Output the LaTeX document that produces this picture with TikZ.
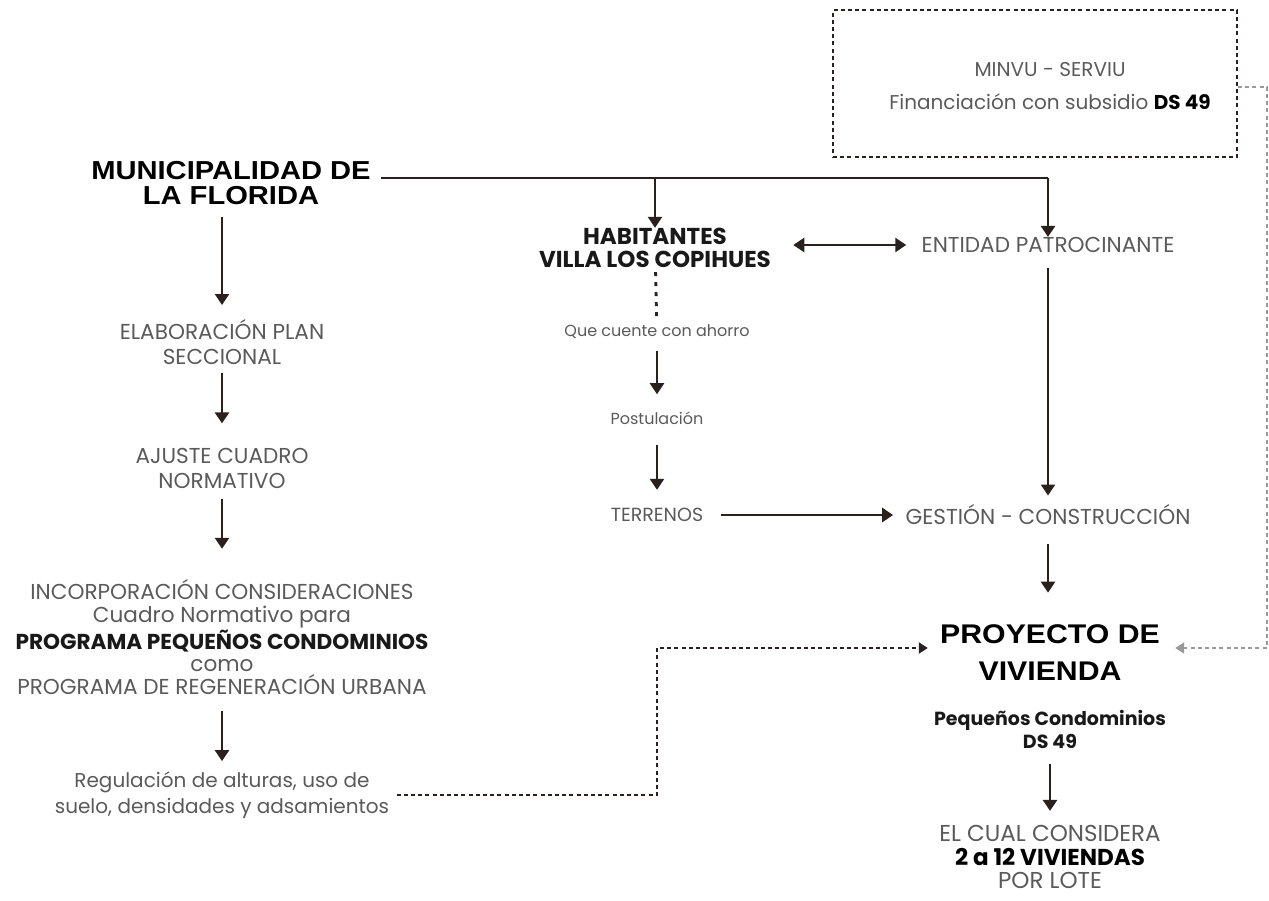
\documentclass[tikz,border=0pt]{standalone}
\usepackage{fontspec}
\setmainfont{Poppins}
\newfontfamily\headfont[FakeStretch=1.12]{Liberation Sans}
\usetikzlibrary{arrows.meta}

\definecolor{ink}{HTML}{2A211F}
\definecolor{soft}{HTML}{5A5A5A}

\tikzset{
  txt/.style={text=soft, align=center, inner sep=0pt, font=\fontsize{10.8}{12.5}\selectfont},
  small/.style={text=soft, align=center, inner sep=0pt, font=\fontsize{8}{10}\selectfont},
  strong/.style={text=black!90, align=center, inner sep=0pt, font=\bfseries\fontsize{9.5}{11.5}\selectfont},
  head/.style={text=black, align=center, inner sep=0pt, font=\headfont\bfseries\fontsize{13}{12.5}\selectfont},
  flow/.style={draw=ink, line width=1.2pt, -{Triangle[width=7pt,length=5.5pt]}},
  dots/.style={draw=ink, line width=1pt, dash pattern=on 2pt off 1.6pt},
}

\begin{document}
\begin{tikzpicture}[x=0.5pt, y=-0.5pt]
  \useasboundingbox (0,0) rectangle (1269,900);

  % left column
  \node (muni) [head] at (231,183) {MUNICIPALIDAD DE\\LA FLORIDA};
  \node (elab) [txt] at (222,342) {ELABORACIÓN PLAN\\SECCIONAL};
  \node (ajuste) [txt] at (222,468) {AJUSTE CUADRO\\NORMATIVO};
  \node (incorp) [txt, font=\fontsize{10.8}{11.4}\selectfont] at (222,637) {INCORPORACIÓN CONSIDERACIONES\\Cuadro Normativo para\\{\bfseries\color{black!90}PROGRAMA PEQUEÑOS CONDOMINIOS}\\como\\PROGRAMA DE REGENERACIÓN URBANA};
  \node (regul) [txt, font=\fontsize{10}{13}\selectfont] at (222,795) {Regulación de alturas, uso de\\suelo, densidades y adsamientos};

  % middle column
  \node (habit) [strong, font=\bfseries\fontsize{11.5}{11.5}\selectfont] at (655,248) {HABITANTES\\VILLA LOS COPIHUES};
  \node (ahorro) [small] at (657,332) {Que cuente con ahorro};
  \node (postul) [small] at (657,418) {Postulación};
  \node (terrenos) [small, font=\fontsize{9.5}{10}\selectfont] at (657,515) {TERRENOS};

  % right column
  \node (minvu) [dots, minimum width=202pt, minimum height=73.5pt] at (1035,83.5) {};
  \node (minvutxt) [txt, font=\fontsize{10}{11.5}\selectfont] at (1050,86) {MINVU - SERVIU\\[5pt]Financiación con subsidio {\bfseries\color{black}DS 49}};
  \node (entidad) [txt] at (1048,245) {ENTIDAD PATROCINANTE};
  \node (gestion) [txt] at (1048,515) {GESTIÓN - CONSTRUCCIÓN};
  \node (proyecto) [head, font=\headfont\bfseries\fontsize{13.5}{18.5}\selectfont] at (1050,653) {PROYECTO DE\\VIVIENDA};
  \node (pequenos) [strong] at (1050,729) {Pequeños Condominios\\DS 49};
  \node (cual) [txt, font=\fontsize{11.5}{11.75}\selectfont] at (1050,857) {EL CUAL CONSIDERA\\{\bfseries\color{black}2 a 12 VIVIENDAS}\\POR LOTE};

  \coordinate (bus1) at (655,178);
  \coordinate (bus2) at (1048,178);
  \coordinate (lcorner) at (657,795);
  \coordinate (ltop) at (657,648);
  \coordinate (rtop) at (1267,87);
  \coordinate (rbot) at (1267,648);

  \draw [draw=ink, line width=1.2pt, shorten <=5pt] (muni.east |- bus1) -- (bus2);
  \draw [flow] (bus1) -- (habit.north);
  \draw [flow] (bus2) -- (entidad.north);

  \draw [flow, shorten <=6pt, shorten >=7pt] (muni.south -| elab.north) -- (elab.north);
  \draw [flow, shorten <=4pt, shorten >=12pt] (elab) -- (ajuste);
  \draw [flow, shorten <=5pt, shorten >=15pt] (ajuste) -- (incorp);
  \draw [flow, shorten <=8pt, shorten >=5pt] (incorp) -- (regul);

  \draw [dots, line width=1.4pt, dash pattern=on 2pt off 3pt, shorten <=2pt, shorten >=2.5pt] (habit) -- (ahorro);
  \draw [flow, shorten <=6pt, shorten >=8.5pt] (ahorro) -- (postul);
  \draw [flow, shorten <=10pt, shorten >=9pt] (postul) -- (terrenos);
  \draw [flow, shorten <=8.5pt, shorten >=6pt] (terrenos) -- (gestion);
  \draw [flow, {Triangle[width=7pt,length=5.5pt]}-{Triangle[width=7pt,length=5.5pt]}, shorten <=11pt, shorten >=7.5pt] (habit.east |- entidad) -- (entidad.west);
  \draw [flow, shorten <=7.5pt, shorten >=4.5pt] (entidad) -- (gestion);
  \draw [flow, shorten <=9.5pt, shorten >=16pt] (gestion.south) -- (gestion.south |- proyecto.north);
  \draw [flow, shorten <=7.5pt, shorten >=7pt] (pequenos) -- (cual);

  \draw [dots, -{Triangle[width=5.5pt,length=4.5pt]}, shorten <=3.5pt, shorten >=6pt] (regul.east) -- (lcorner) -- (ltop) -- (proyecto.west |- ltop);
  \draw [dots, draw=gray!80, line width=0.8pt, -{Triangle[width=5.5pt,length=4.5pt]}, shorten >=7.5pt] (minvu.east |- rtop) -- (rtop) -- (rbot) -- (proyecto.east |- rbot);
\end{tikzpicture}
\end{document}
